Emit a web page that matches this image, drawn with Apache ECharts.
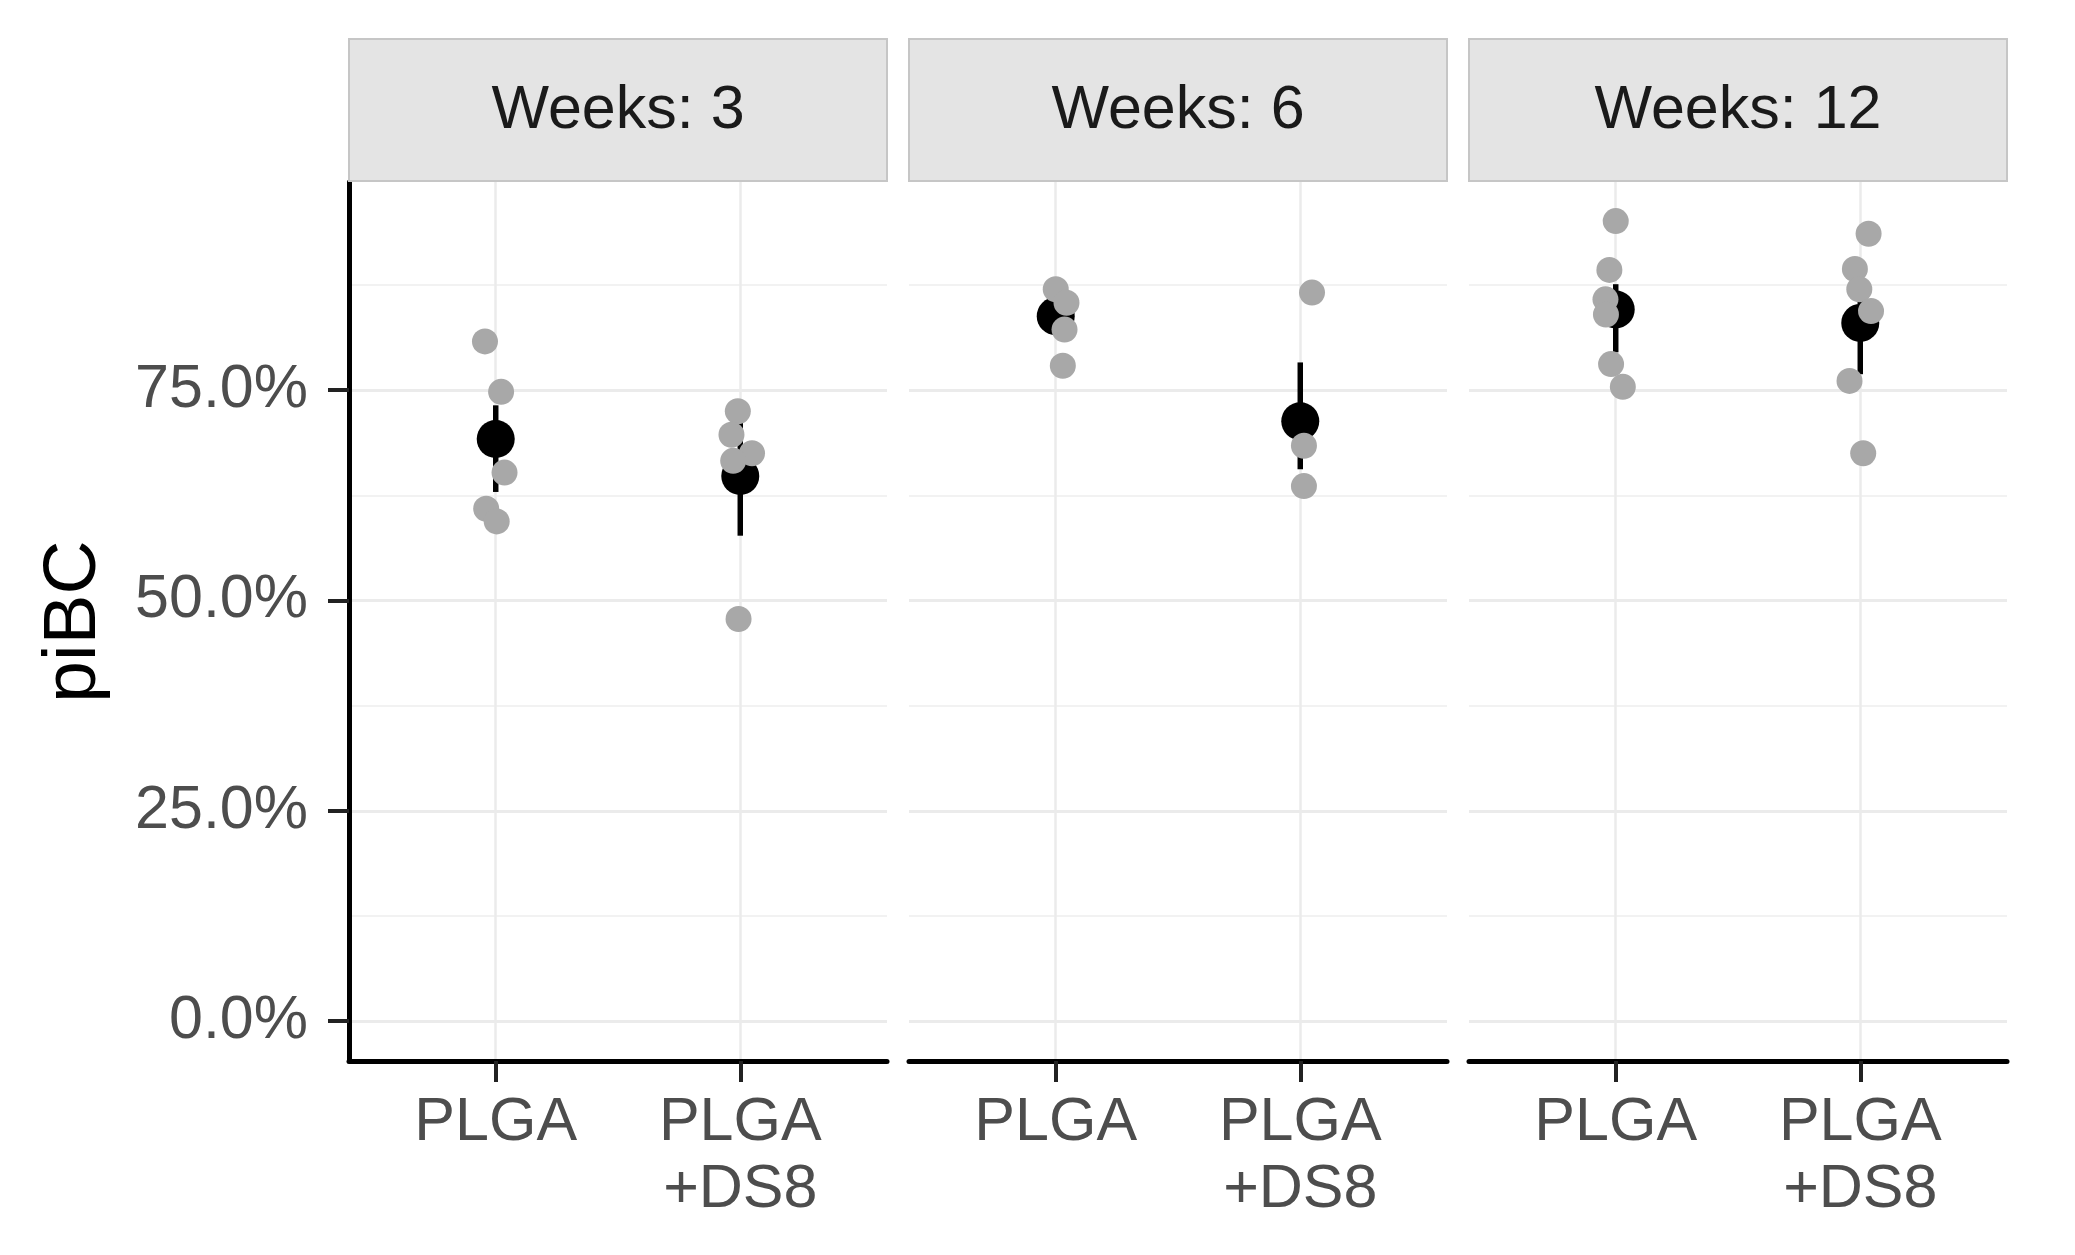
<!DOCTYPE html>
<html><head><meta charset="utf-8">
<script src="https://cdn.jsdelivr.net/npm/echarts@6/dist/echarts.min.js"></script>
<style>html,body{margin:0;padding:0;background:#fff}#chart{width:2075px;height:1255px}</style>
</head><body><div id="chart"></div>
<script>
const panels = ['Weeks: 3', 'Weeks: 6', 'Weeks: 12'];
const groups = ['PLGA', 'PLGA\n+DS8'];
const yTicks = [0, 25, 50, 75];
const yMinorTicks = [12.5, 37.5, 62.5, 87.5];

// individual observations (%)
const w3Plga = [80.8, 74.8, 65.2, 60.9, 59.4];
const w3Ds8 = [72.5, 69.7, 67.5, 66.6, 47.8];
const w6Plga = [87.0, 85.4, 82.2, 77.9];
const w6Ds8 = [86.6, 68.4, 63.6];
const w12Plga = [95.1, 89.3, 85.8, 84.0, 78.1, 75.4];
const w12Ds8 = [93.6, 89.4, 87.0, 84.4, 76.1, 67.5];
// horizontal jitter offsets (category units)
const w3PlgaJit = [-0.044, 0.022, 0.036, -0.039, 0.004];
const w3Ds8Jit = [-0.010, -0.036, 0.048, -0.029, -0.007];
const w6PlgaJit = [0.0, 0.044, 0.036, 0.029];
const w6Ds8Jit = [0.048, 0.015, 0.015];
const w12PlgaJit = [0.0, -0.026, -0.042, -0.040, -0.019, 0.029];
const w12Ds8Jit = [0.034, -0.022, -0.004, 0.044, -0.044, 0.012];

// summary (mean and error bar ends, %)
const meanPlga = [69.2, 83.8, 84.6];
const meanDs8 = [64.8, 71.3, 83.0];
const lowPlga = [62.9, 82.0, 79.5];
const highPlga = [73.2, 85.6, 87.6];
const lowDs8 = [57.7, 65.6, 76.9];
const highDs8 = [71.9, 78.3, 89.1];

const plgaSets = [w3Plga, w6Plga, w12Plga];
const ds8Sets = [w3Ds8, w6Ds8, w12Ds8];
const plgaJits = [w3PlgaJit, w6PlgaJit, w12PlgaJit];
const ds8Jits = [w3Ds8Jit, w6Ds8Jit, w12Ds8Jit];

// layout
const GL = [349, 909, 1469];
const GW = 538, GT = 182, GH = 879;
const FONT = '"Liberation Sans", Arial, Helvetica, sans-serif';
const GRID_C = '#ebebeb';

const grids = [], xAxes = [], yAxes = [], series = [], graphics = [];
panels.forEach((title, i) => {
  grids.push({left: GL[i], top: GT, width: GW, height: GH, containLabel: false});
  xAxes.push({
    type: 'value', gridIndex: i, min: 0.4, max: 2.6,
    axisLine: {show: true, onZero: false, lineStyle: {color: '#000', width: 5}},
    axisTick: {show: true, customValues: [1, 2], length: 21, lineStyle: {color: '#222', width: 4}},
    axisLabel: {show: true, customValues: [1, 2], margin: 29, color: '#4d4d4d', fontSize: 61, lineHeight: 67,
      fontFamily: FONT, formatter: v => groups[Math.round(v) - 1]},
    splitLine: {show: true, lineStyle: {color: GRID_C, width: 2.5}}
  });
  yAxes.push({
    type: 'value', gridIndex: i, min: -4.75, max: 99.75,
    name: i === 0 ? 'piBC' : '', nameLocation: 'middle', nameGap: 237,
    nameTextStyle: {fontSize: 75, color: '#000', fontFamily: FONT},
    axisLine: {show: i === 0, onZero: false, lineStyle: {color: '#000', width: 5}},
    axisTick: {show: i === 0, customValues: yTicks, length: 21, lineStyle: {color: '#222', width: 4}},
    axisLabel: {show: i === 0, customValues: yTicks, margin: 41, color: '#4d4d4d', fontSize: 61,
      fontFamily: FONT, formatter: v => v.toFixed(1) + '%'},
    splitLine: {show: true, lineStyle: {color: GRID_C, width: 3}}
  });
  yAxes.push({
    type: 'value', gridIndex: i, min: -4.75, max: 99.75,
    axisLine: {show: false, onZero: false}, axisLabel: {show: false},
    axisTick: {show: false, customValues: yMinorTicks},
    splitLine: {show: true, lineStyle: {color: '#f2f2f2', width: 2}}
  });

  series.push({
    type: 'custom', xAxisIndex: i, yAxisIndex: 2 * i, z: 3,
    encode: {x: 0, y: [1, 2]},
    data: [[1, lowPlga[i], highPlga[i]], [2, lowDs8[i], highDs8[i]]],
    renderItem: (params, api) => {
      const a = api.coord([api.value(0), api.value(1)]);
      const b = api.coord([api.value(0), api.value(2)]);
      return {type: 'line', shape: {x1: a[0], y1: a[1], x2: b[0], y2: b[1]},
        style: {stroke: '#000', lineWidth: 5.5}};
    }
  });
  series.push({
    type: 'scatter', xAxisIndex: i, yAxisIndex: 2 * i, z: 4,
    symbolSize: 38, itemStyle: {color: '#000', opacity: 1},
    data: [[1, meanPlga[i]], [2, meanDs8[i]]]
  });
  const pts = plgaSets[i].map((v, k) => [1 + plgaJits[i][k], v])
    .concat(ds8Sets[i].map((v, k) => [2 + ds8Jits[i][k], v]));
  series.push({
    type: 'scatter', xAxisIndex: i, yAxisIndex: 2 * i, z: 5,
    symbolSize: 26, itemStyle: {color: '#a8a8a8', opacity: 1},
    data: pts
  });

  graphics.push({type: 'rect', z: 10, shape: {x: GL[i], y: 39, width: GW, height: 142},
    style: {fill: '#e4e4e4', stroke: '#c6c6c6', lineWidth: 2}});
  graphics.push({type: 'text', z: 11, x: GL[i] + GW / 2, y: 111,
    style: {text: title, fontSize: 61, fontFamily: FONT, fill: '#1a1a1a', align: 'center', verticalAlign: 'middle'}});
});

const chart = echarts.init(document.getElementById('chart'), null, {renderer: 'canvas'});
chart.setOption({
  backgroundColor: '#fff',
  animation: false,
  grid: grids, xAxis: xAxes, yAxis: yAxes, series: series, graphic: graphics
});
</script></body></html>
